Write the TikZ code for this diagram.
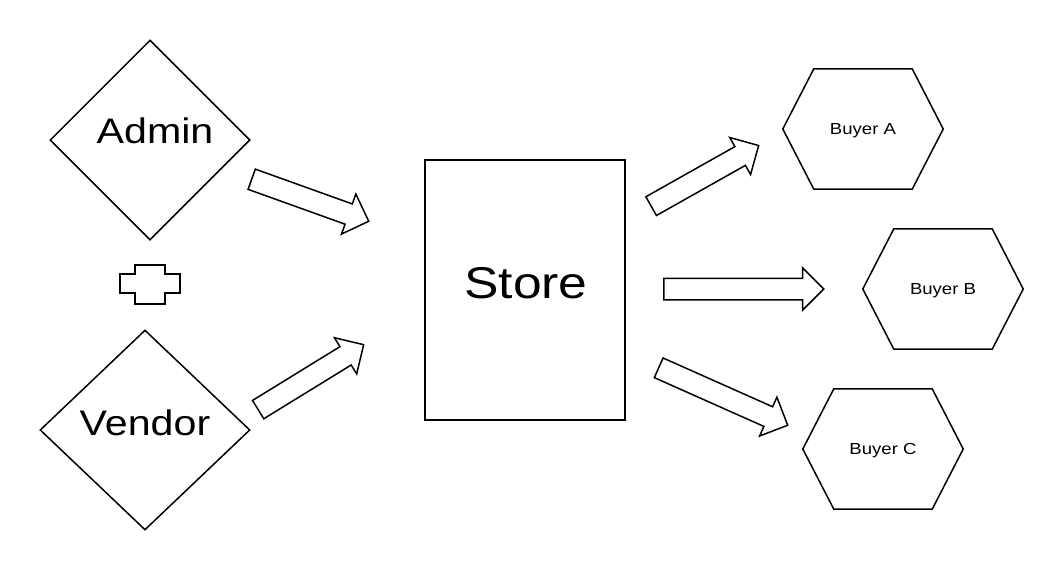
\documentclass[tikz,border=0pt]{standalone}
\usepackage{fontspec}
\newfontfamily\diagfont[FakeStretch=1.16]{Liberation Sans}
\usetikzlibrary{shapes.geometric, shapes.arrows}
\tikzset{
  role/.style={diamond, draw, line width=1.5pt, aspect=1, inner sep=0pt},
  shop/.style={rectangle, draw, line width=1.5pt, minimum width=200pt, minimum height=260pt},
  flow/.style={single arrow, draw, line width=1.5pt, minimum width=41pt,
    single arrow head extend=10.5pt, single arrow head indent=0pt,
    inner xsep=0pt, inner ysep=10pt, anchor=tail},
  bigtxt/.style={font=\diagfont\fontsize{35.5}{42}\selectfont, anchor=base, inner sep=0pt},
  hugetxt/.style={font=\diagfont\fontsize{44.5}{52}\selectfont, anchor=base, inner sep=0pt},
  buyer/.style={minimum width=160pt, minimum height=120pt, inner sep=0pt, text depth=0pt,
    font=\diagfont\fontsize{16}{19}\selectfont,
    append after command={\pgfextra{\draw[line width=1.5pt, line join=miter]
      (\tikzlastnode.west) -- ([xshift=31pt]\tikzlastnode.north west)
      -- ([xshift=-31pt]\tikzlastnode.north east) -- (\tikzlastnode.east)
      -- ([xshift=-31pt]\tikzlastnode.south east) -- ([xshift=31pt]\tikzlastnode.south west)
      -- cycle;}}},
}
\begin{document}
\begin{tikzpicture}[x=1pt, y=-1pt]
  \useasboundingbox (0,0) rectangle (1063,570);

  % Roles on the left
  \node[role, minimum width=200pt, minimum height=200pt] (admin) at (150,140) {};
  \node[role, minimum width=210pt, minimum height=200pt] (vendor) at (145,430) {};
  \node[bigtxt] (admintxt) at (155,143) {Admin};
  \node[bigtxt] (vendortxt) at (145,435) {Vendor};

  % Plus between roles
  \coordinate (plus) at (150,284.5);
  \draw[line width=2.3pt] (plus) ++(-15,-19.5) -- ++(30,0) -- ++(0,9) -- ++(15,0)
    -- ++(0,19) -- ++(-15,0) -- ++(0,11) -- ++(-30,0) -- ++(0,-11) -- ++(-15,0)
    -- ++(0,-19) -- ++(15,0) -- cycle;

  % Store
  \node[shop] (store) at (525,290) {};
  \node[hugetxt] (storetxt) at (526,298) {Store};

  % Buyers
  \node[buyer] (buyera) at (863,129) {Buyer A};
  \node[buyer] (buyerb) at (943,289) {Buyer B};
  \node[buyer] (buyerc) at (883,449) {Buyer C};

  % Block arrows
  \node[flow, rotate=-19.75, minimum height=124.3pt] (adminflow) at (251,179) {};
  \node[flow, rotate=31.6, minimum height=123.9pt] (vendorflow) at (257.5,410) {};
  \node[flow, rotate=29.4, minimum height=123.4pt] (flowa) at (650.5,206.5) {};
  \node[flow, minimum height=160pt] (flowb) at (663,289) {};
  \node[flow, rotate=-24, minimum height=141.2pt] (flowc) at (658,367.5) {};
\end{tikzpicture}
\end{document}
